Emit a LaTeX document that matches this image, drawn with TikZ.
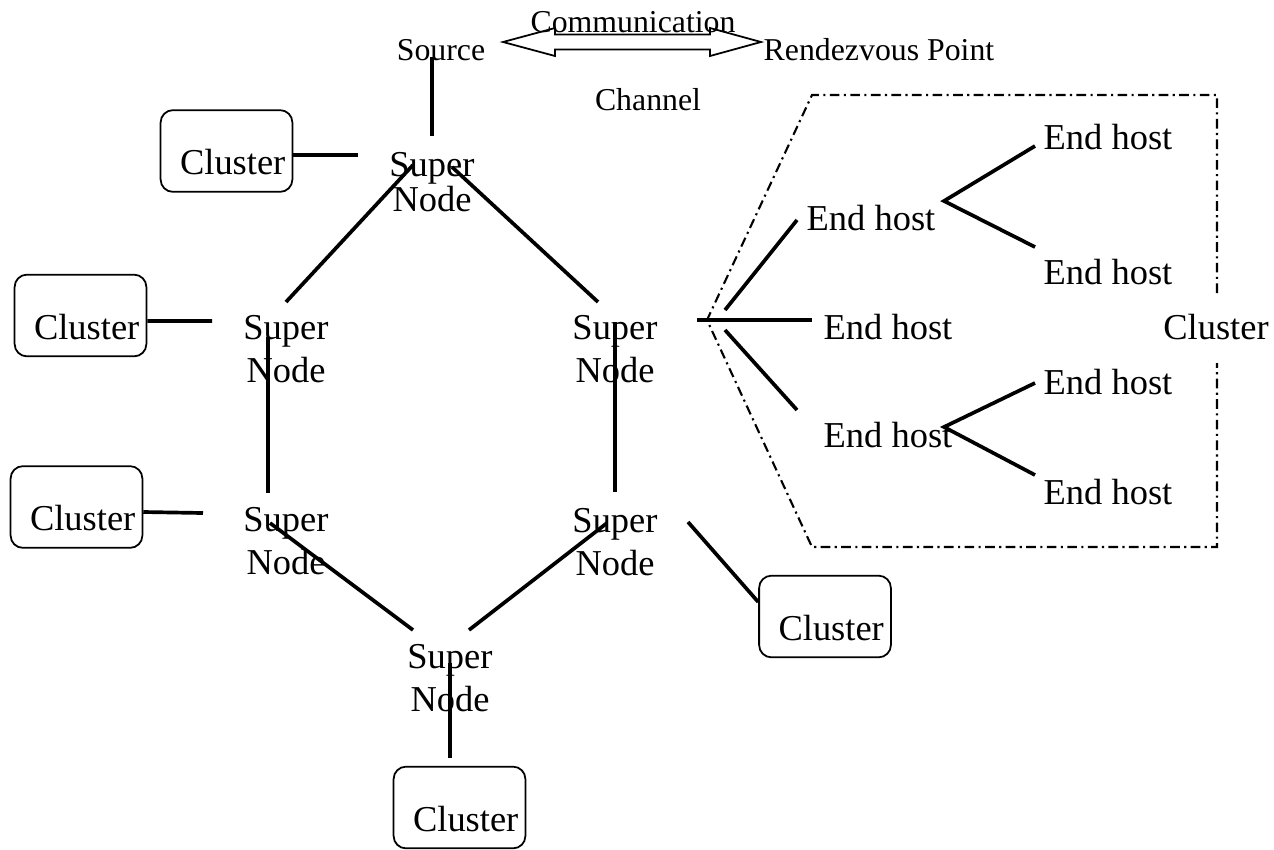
\documentclass[tikz,border=0pt]{standalone}
\usepackage{fontspec}
\setmainfont{Liberation Serif}
\usetikzlibrary{calc}
\tikzset{
  sn/.style = {align = center, inner sep = 0pt, font = \fontsize{20.75}{24.4}\selectfont},
  host/.style = {inner sep = 0pt, font = \fontsize{20.75}{24.4}\selectfont},
  lbl/.style = {inner sep = 0pt, font = \fontsize{18.1}{21}\selectfont},
  clusterbox/.style = {draw, line width = 1pt, rounded corners = 7pt, align = right, text width = 67pt, inner xsep = 4pt, text height = 27pt, text depth = 0pt, minimum height = 46.5pt, font = \fontsize{20.75}{24.4}\selectfont},
  link/.style = {line width = 2.1pt},
  border/.style = {line width = 1.2pt, dash pattern = on 5.5pt off 2.5pt on 1.2pt off 2.5pt}
}
\begin{document}
\begin{tikzpicture}[x = 0.02cm, y = -0.02cm]
  \useasboundingbox (0, 0) rectangle (1274, 849);
  \draw [line width = 1pt] (503, 42) -- (555, 28) -- (555, 34.5) -- (710, 34.5) -- (710, 28) -- (761, 42) -- (710, 56) -- (710, 49.5) -- (555, 49.5) -- (555, 56) -- cycle;
  \node [lbl] (src) at (441, 50) {Source};
  \node [lbl] (comm) at (633, 22) {Communication};
  \node [lbl] (rp) at (879, 50) {Rendezvous Point};
  \node [lbl] (chan) at (648, 100) {Channel};
  \node [sn, font = \fontsize{20.75}{19.8}\selectfont] (sn1) at (432, 182) {Super\\Node};
  \node [sn] (sn2) at (286, 349) {Super\\Node};
  \node [sn] (sn3) at (615, 349) {Super\\Node};
  \node [sn] (sn4) at (286, 541) {Super\\Node};
  \node [sn] (sn5) at (615, 542) {Super\\Node};
  \node [sn] (sn6) at (450, 678) {Super\\Node};
  \node [clusterbox] (cl1) at (226.5, 151) {Cluster};
  \node [clusterbox] (cl2) at (80.5, 315.5) {Cluster};
  \node [clusterbox] (cl3) at (76.5, 507) {Cluster};
  \node [clusterbox] (cl5) at (825, 616.5) {Cluster};
  \node [clusterbox] (cl6) at (459.5, 807.5) {Cluster};
  \node [host] (eh1) at (871, 218) {End host};
  \node [host] (eh2) at (888, 327) {End host};
  \node [host] (eh3) at (888, 435) {End host};
  \node [host] (eh4) at (1108, 137) {End host};
  \node [host] (eh5) at (1108, 272) {End host};
  \node [host] (eh6) at (1108, 382) {End host};
  \node [host] (eh7) at (1108, 492) {End host};
  \node [host] (clall) at (1216, 327) {Cluster};
  \draw [link] ($(src) + (-9, 7)$) -- ($(sn1) + (0, -46)$);
  \draw [link] ($(cl1.east) + (0, 4)$) -- ($(sn1) + (-74, -27)$);
  \draw [link] ($(sn1) + (-19, -17)$) -- ($(sn2) + (0, -47)$);
  \draw [link] ($(sn1) + (20, -15)$) -- ($(sn3) + (-17, -47)$);
  \draw [link] ($(cl2.east) + (0, 5.5)$) -- ($(sn2) + (-74, -28)$);
  \draw [link] ($(sn2) + (-18, -12)$) -- ($(sn4) + (-18, -48)$);
  \draw [link] ($(sn3) + (0, -27)$) -- ($(sn5) + (0, -50)$);
  \draw [link] ($(cl3.east) + (0, 5)$) -- ($(sn4) + (-83, -28)$);
  \draw [link] ($(sn4) + (-16, -18)$) -- ($(sn6) + (-37, -48)$);
  \draw [link] ($(sn5) + (-8, -19)$) -- ($(sn6) + (19, -48)$);
  \draw [link] ($(sn6) + (0, -15)$) -- ($(cl6) + (-9.5, -49.5)$);
  \draw [link] ($(sn5) + (73, -20)$) -- ($(cl5.west) + (0, -14.5)$);
  \draw [link] ($(sn3) + (82, -29)$) -- ($(eh2) + (-76, -7)$);
  \draw [link] ($(sn3) + (110, -39)$) -- ($(eh1) + (-74, 2)$);
  \draw [link] ($(sn3) + (110, -19)$) -- ($(eh3) + (-91, -25)$);
  \draw [link] ($(eh4) + (-73, 9)$) -- ($(eh1) + (73, -17)$) -- ($(eh5) + (-73, -25)$);
  \draw [link] ($(eh6) + (-73, 1)$) -- ($(eh3) + (56, -8)$) -- ($(eh7) + (-73, -17)$);
  \draw [border] (1217, 293) -- (1217, 95) -- (812, 95) -- (707, 320) -- (812, 547) -- (1217, 547) -- (1217, 363);
\end{tikzpicture}
\end{document}
